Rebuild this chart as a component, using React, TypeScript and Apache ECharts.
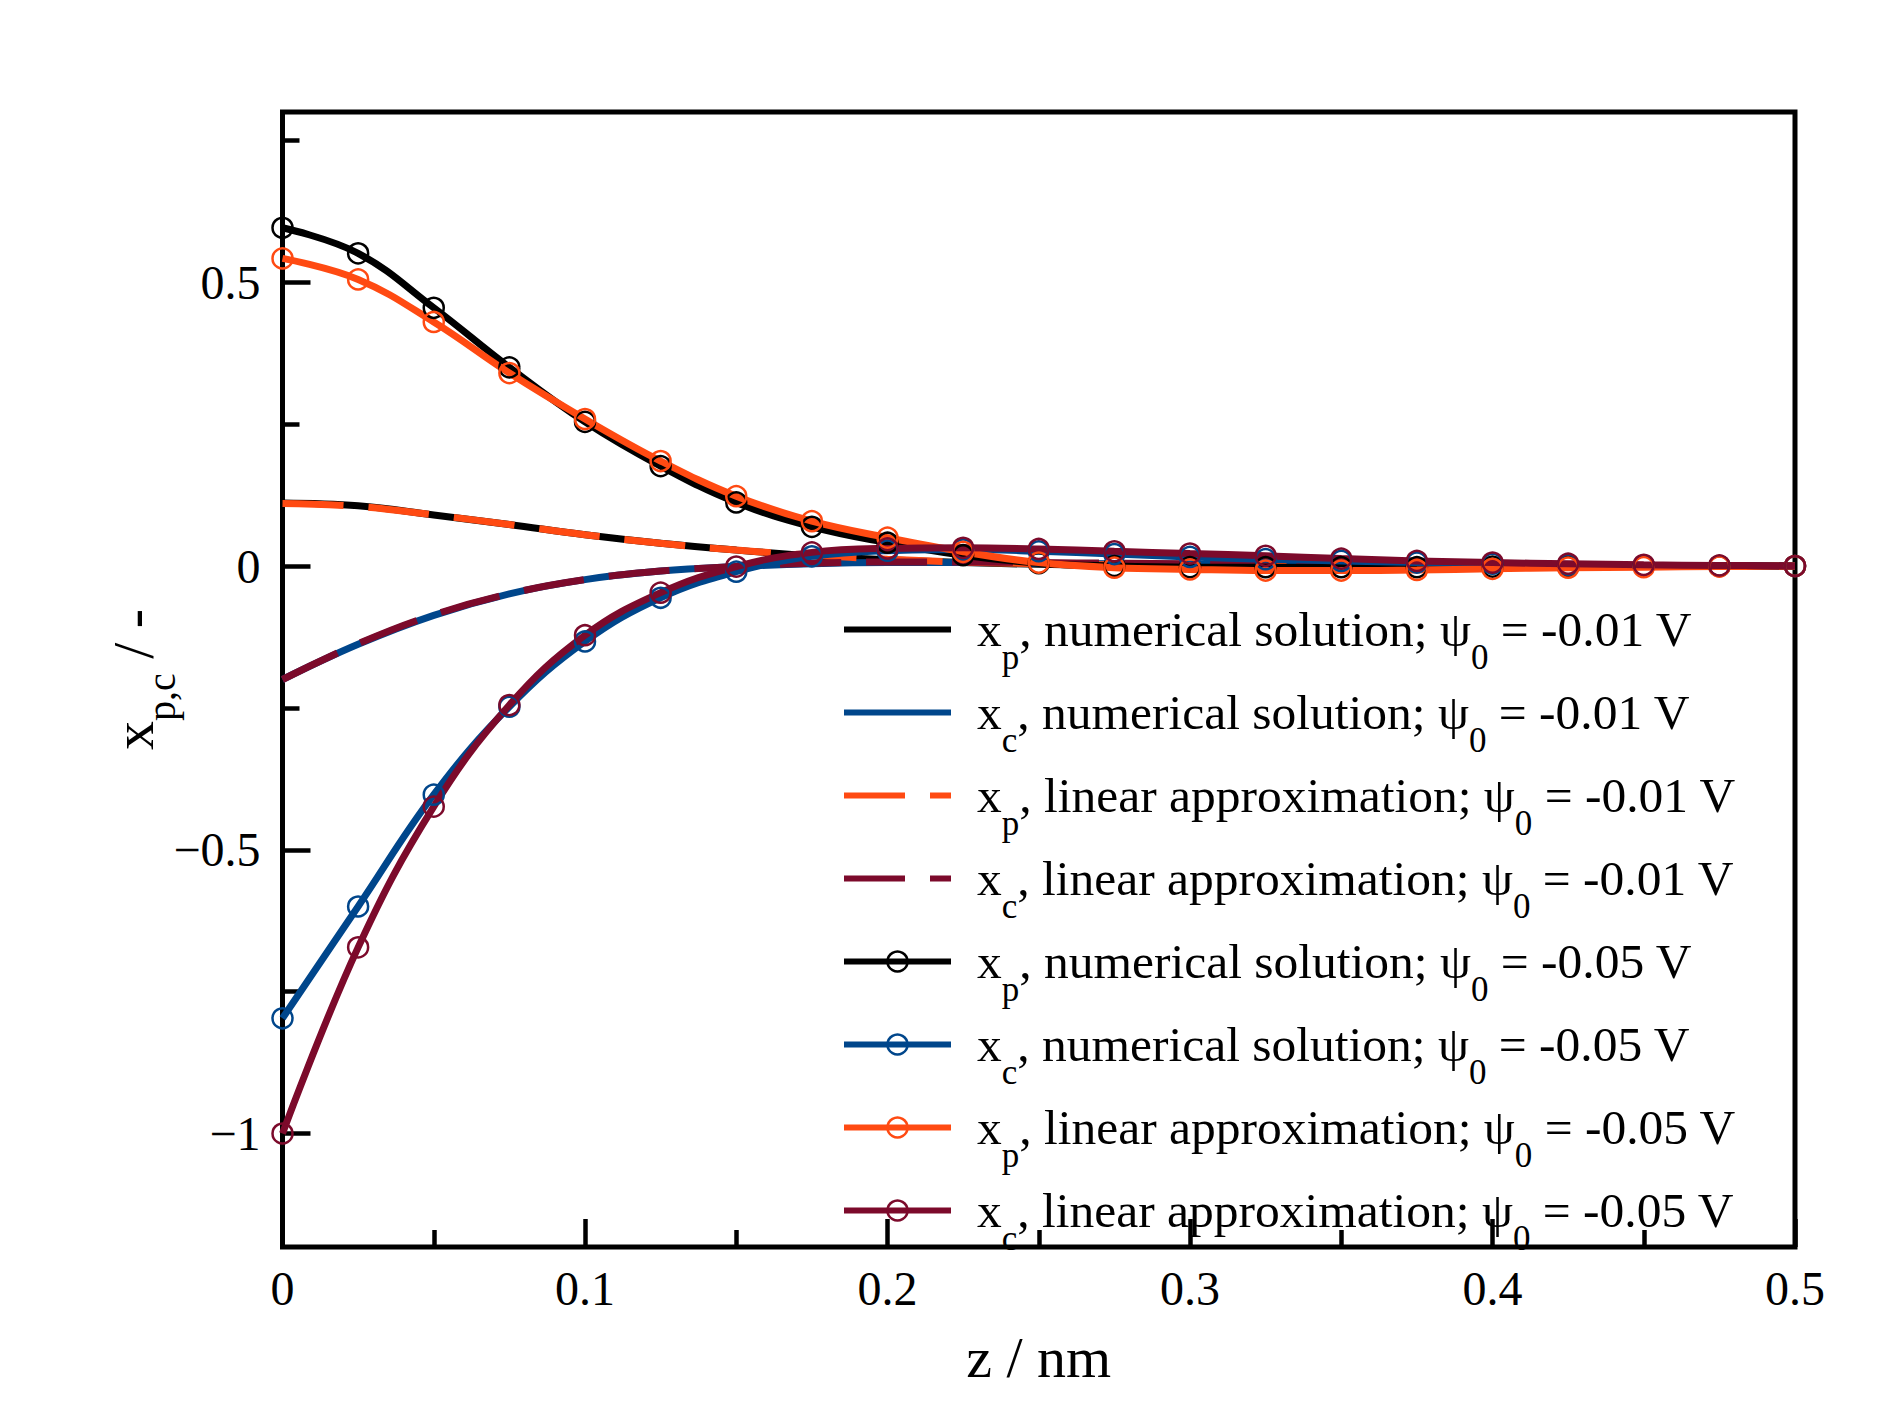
import React, { useEffect, useRef } from "react";
import * as echarts from "echarts";

// z / nm
const Z = [0, 0.025, 0.05, 0.075, 0.1, 0.125, 0.15, 0.175, 0.2, 0.225, 0.25, 0.275, 0.3, 0.325, 0.35, 0.375, 0.4, 0.425, 0.45, 0.475, 0.5];

// psi0 = -0.01 V
const XP_NUM_001 = [0.111, 0.106, 0.09, 0.073, 0.055, 0.04, 0.028, 0.018, 0.011, 0.006, 0.003, 0.001, 0, 0, 0, 0, 0, 0, 0, 0, 0];
const XC_NUM_001 = [-0.2, -0.138, -0.087, -0.049, -0.024, -0.009, -0.001, 0.004, 0.006, 0.006, 0.005, 0.004, 0.003, 0.002, 0.002, 0.001, 0.001, 0, 0, 0, 0];
const XP_LIN_001 = [0.11, 0.105, 0.09, 0.073, 0.055, 0.04, 0.028, 0.019, 0.012, 0.007, 0.004, 0.002, 0.001, 0, 0, 0, 0, 0, 0, 0, 0];
const XC_LIN_001 = [-0.2, -0.137, -0.086, -0.049, -0.024, -0.009, -0.001, 0.005, 0.007, 0.007, 0.006, 0.005, 0.004, 0.003, 0.002, 0.002, 0.001, 0.001, 0, 0, 0];

// psi0 = -0.05 V
const XP_NUM_005 = [0.596, 0.551, 0.455, 0.35, 0.254, 0.176, 0.112, 0.069, 0.041, 0.019, 0.005, 0, -0.002, -0.002, -0.002, -0.002, -0.001, -0.001, 0, 0, 0];
const XC_NUM_005 = [-0.797, -0.6, -0.403, -0.248, -0.133, -0.056, -0.01, 0.017, 0.027, 0.029, 0.026, 0.021, 0.016, 0.012, 0.009, 0.006, 0.004, 0.002, 0.001, 0, 0];
const XP_LIN_005 = [0.542, 0.505, 0.43, 0.34, 0.259, 0.185, 0.123, 0.079, 0.05, 0.025, 0.006, -0.003, -0.006, -0.008, -0.008, -0.007, -0.005, -0.003, -0.002, -0.001, 0];
const XC_LIN_005 = [-1.0, -0.672, -0.424, -0.245, -0.122, -0.047, -0.001, 0.024, 0.031, 0.032, 0.03, 0.026, 0.022, 0.018, 0.013, 0.009, 0.006, 0.004, 0.002, 0.001, 0];

const SERIES_VALUES = [XP_NUM_001, XC_NUM_001, XP_LIN_001, XC_LIN_001, XP_NUM_005, XC_NUM_005, XP_LIN_005, XC_LIN_005];
const SERIES_SUB = ["p", "c", "p", "c", "p", "c", "p", "c"];
const SERIES_DESC = ["numerical solution", "numerical solution", "linear approximation", "linear approximation", "numerical solution", "numerical solution", "linear approximation", "linear approximation"];
const SERIES_PSI = ["-0.01", "-0.01", "-0.01", "-0.01", "-0.05", "-0.05", "-0.05", "-0.05"];
const SERIES_COLORS = ["#000000", "#00468B", "#FF4A12", "#7C0A2B", "#000000", "#00468B", "#FF4A12", "#7C0A2B"];
const SERIES_DASHED = [false, false, true, true, false, false, false, false];
const SERIES_MARKER = [false, false, false, false, true, true, true, true];

const SERIES_NAMES = SERIES_SUB.map((s, i) => `x${s}, ${SERIES_DESC[i]}; ψ0 = ${SERIES_PSI[i]} V`);

const Y_MAJOR = [-1, -0.5, 0, 0.5];
const Y_MINOR = [-0.75, -0.25, 0.25, 0.75];

const FONT = "'Liberation Serif', 'Times New Roman', serif";
const LINE_W = 6;
const PLOT_LINE_W = 7;

export default function App() {
  const ref = useRef<HTMLDivElement>(null);

  useEffect(() => {
    const chart = echarts.init(ref.current as HTMLDivElement, null, { renderer: "svg" });

    const series = SERIES_VALUES.map((vals, i) => ({
      name: SERIES_NAMES[i],
      type: "line",
      xAxisIndex: 0,
      yAxisIndex: 0,
      data: Z.map((z, k) => [z, vals[k]]),
      smooth: 0.4,
      symbol: SERIES_MARKER[i] ? "circle" : "none",
      showSymbol: SERIES_MARKER[i],
      symbolSize: 20,
      lineStyle: {
        color: SERIES_COLORS[i],
        width: PLOT_LINE_W,
        type: SERIES_DASHED[i] ? [61, 25] : "solid",
      },
      itemStyle: {
        color: "rgba(0,0,0,0)",
        borderColor: SERIES_MARKER[i] ? SERIES_COLORS[i] : "rgba(0,0,0,0)",
        borderWidth: SERIES_MARKER[i] ? 2.5 : 0,
      },
      emphasis: { disabled: true },
      animation: false,
    }));

    const option = {
      animation: false,
      backgroundColor: "#ffffff",
      grid: {
        left: 282.5,
        top: 112,
        right: 94,
        bottom: 170,
        show: true,
        borderColor: "#000",
        borderWidth: 5,
        backgroundColor: "rgba(0,0,0,0)",
        containLabel: false,
      },
      legend: {
        orient: "vertical",
        left: 841,
        top: 584,
        padding: 0,
        itemWidth: 107,
        itemHeight: 25,
        itemGap: -8,
        selectedMode: false,
        data: SERIES_NAMES,
        lineStyle: { width: LINE_W },
        itemStyle: { borderWidth: 2.5 },
        formatter: (name: string) => {
          const i = SERIES_NAMES.indexOf(name);
          return `{m0|x}{s|${SERIES_SUB[i]}}{m|, ${SERIES_DESC[i]}; ψ}{s|0}{m| = ${SERIES_PSI[i]} V}`;
        },
        textStyle: {
          fontFamily: FONT,
          fontSize: 49.5,
          color: "#000",
          rich: {
            m0: { fontFamily: FONT, fontSize: 49.5, lineHeight: 50, color: "#000", padding: [0, 0, 0, 21] },
            m: { fontFamily: FONT, fontSize: 49.5, lineHeight: 50, color: "#000" },
            s: { fontFamily: FONT, fontSize: 35, lineHeight: 50, color: "#000", padding: [56, 0, 0, 0] },
          },
        },
      },
      xAxis: [
        {
          type: "value",
          min: 0,
          max: 0.5,
          interval: 0.1,
          position: "bottom",
          axisLine: { show: false, onZero: false },
          splitLine: { show: false },
          axisTick: { show: true, inside: true, length: 28, lineStyle: { color: "#000", width: 4.5 } },
          minorTick: { show: true, splitNumber: 2, length: 17, lineStyle: { color: "#000", width: 4.5 } },
          minorSplitLine: { show: false },
          axisLabel: {
            margin: 17,
            fontFamily: FONT,
            fontSize: 48,
            lineHeight: 48,
            color: "#000",
            formatter: (v: number) => String(v),
          },
          name: "z / nm",
          nameLocation: "middle",
          nameGap: 78,
          nameMoveOverlap: false,
          nameTextStyle: { fontFamily: FONT, fontSize: 58, lineHeight: 64, color: "#000" },
        },
      ],
      yAxis: [
        {
          type: "value",
          min: -1.2,
          max: 0.8,
          position: "left",
          axisLine: { show: false, onZero: false },
          splitLine: { show: false },
          axisTick: { show: true, inside: true, length: 28, customValues: Y_MAJOR, lineStyle: { color: "#000", width: 4.5 } },
          axisLabel: {
            margin: 22,
            customValues: Y_MAJOR,
            fontFamily: FONT,
            fontSize: 48,
            color: "#000",
            formatter: (v: number) => (v < 0 ? "\u2212" : "") + String(Math.abs(v)),
          },
          name: "{a|x}{b|p,c}{a| / -}",
          nameLocation: "middle",
          nameRotate: 90,
          nameGap: 117,
          nameMoveOverlap: false,
          nameTextStyle: {
            fontFamily: FONT,
            fontSize: 58,
            color: "#000",
            rich: {
              a: { fontFamily: FONT, fontSize: 58, lineHeight: 64, color: "#000" },
              b: { fontFamily: FONT, fontSize: 40, lineHeight: 64, color: "#000", padding: [56, 0, 0, 0] },
            },
          },
        },
        {
          type: "value",
          min: -1.2,
          max: 0.8,
          position: "left",
          axisLine: { show: false, onZero: false },
          splitLine: { show: false },
          axisLabel: { show: false },
          axisTick: { show: true, inside: true, length: 17, customValues: Y_MINOR, lineStyle: { color: "#000", width: 4.5 } },
        },
      ],
      series,
    };

    chart.setOption(option as any);
    return () => chart.dispose();
  }, []);

  return (
    <div
      ref={ref}
      style={{ position: "fixed", left: 0, top: 0, width: 1889, height: 1417, background: "#fff" }}
    />
  );
}
